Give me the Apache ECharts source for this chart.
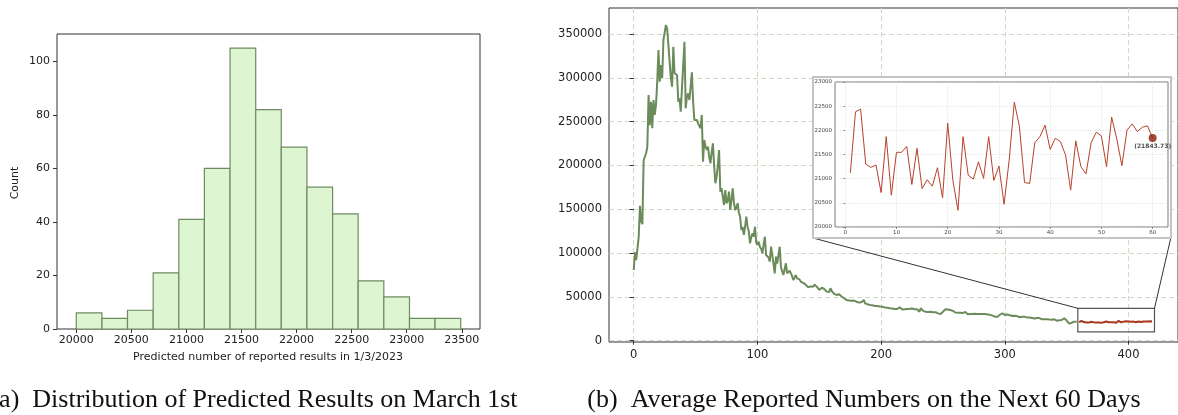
<!DOCTYPE html>
<html>
<head>
<meta charset="utf-8">
<script src="https://cdn.jsdelivr.net/npm/echarts@6.0.0/dist/echarts.min.js"></script>
<style>
html, body { margin: 0; padding: 0; background: #fff; }
#chart { width: 1178px; height: 415px; }
</style>
</head>
<body>
<div id="chart"></div>
<script>
// (a) histogram of predicted counts for 1 March
const binEdges = [20000, 20233, 20465, 20698, 20931, 21163, 21396, 21629, 21861, 22094, 22327, 22559, 22792, 23025, 23257, 23490];
const binCounts = [6, 4, 7, 21, 41, 60, 105, 82, 68, 53, 43, 18, 12, 4, 4];
const histXTicks = [20000, 20500, 21000, 21500, 22000, 22500, 23000, 23500];
const histYTicks = [0, 20, 40, 60, 80, 100];

// (b) daily reported numbers, day 0 .. 358
const reported = [
  80700, 101000, 92000, 105500, 118000, 154000, 136000, 133000, 206000, 210000,
  214000, 221500, 280500, 246000, 272800, 242500, 274800, 257700, 269100, 295700,
  331900, 295700, 314700, 299600, 343300, 352000, 360400, 356600, 358500, 318500,
  300000, 290000, 335600, 305300, 306000, 303300, 272800, 276700, 261400, 288100,
  290000, 341300, 265300, 278000, 282400, 274800, 290000, 306400, 272800, 252000,
  250000, 252000, 248000, 250000, 242500, 257700, 204400, 229100, 222000, 217700,
  221500, 210000, 202500, 215000, 225300, 200000, 179700, 187200, 200000, 217700,
  170100, 174000, 175800, 154900, 172000, 156900, 160000, 170100, 149200, 160000,
  174000, 158000, 149200, 152000, 156900, 146000, 141600, 126400, 130000, 120700,
  130000, 141600, 130100, 125000, 111200, 118000, 122600, 118700, 130100, 112000,
  109300, 113000, 107300, 105000, 99800, 110000, 118700, 97800, 99800, 95000,
  90200, 107300, 98000, 95900, 76900, 95900, 88000, 86400, 107300, 84500,
  79000, 75000, 76900, 88400, 76900, 78000, 80000, 78800, 74000, 69300,
  72000, 75000, 71200, 73100, 70000, 67400, 69000, 66000, 65500, 64000,
  63600, 61000, 59800, 62000, 63000, 61500, 64000, 65500, 61600, 60000,
  57900, 59000, 60500, 61600, 59000, 58000, 56000, 54100, 55500, 59800,
  57000, 55000, 53500, 54100, 52200, 51000, 53000, 52200, 50500, 49000,
  48400, 49500, 46500, 47500, 46000, 44500, 45500, 44500, 45800, 46500,
  44500, 46500, 43500, 42700, 44000, 45500, 46500, 42700, 43500, 41500,
  42000, 40800, 42000, 40500, 41000, 39600, 40800, 39600, 40200, 39000,
  39800, 38800, 39500, 38000, 38800, 37500, 38000, 37000, 37800, 36800,
  37500, 36200, 36800, 36200, 37000, 38100, 36500, 35600, 35000, 36000,
  35400, 36200, 37000, 36400, 35500, 36800, 35000, 35800, 35000, 36000,
  35500, 33100, 37000, 35600, 34000, 34500, 33100, 34000, 32800, 31300,
  33000, 33100, 32500, 31500, 32600, 30800, 31200, 29300, 30500, 31500,
  33000, 34800, 36000, 37000, 35500, 34000, 35000, 33100, 34000, 33100,
  32200, 33100, 32000, 33100, 32000, 33300, 31500, 32000, 32800, 31000,
  30200, 29300, 30400, 29300, 30600, 31500, 30800, 31800, 30500, 31300,
  30600, 31300, 30500, 29800, 30400, 29300, 30000, 28800, 29500, 28200,
  28600, 27800, 27400, 28300, 27400, 28200, 29600, 30300, 31300, 30200,
  29400, 31300, 29800, 28500, 29000, 27400, 28200, 27400, 28500, 27200,
  28000, 27600, 26800, 27800, 27400, 26500, 27200, 26000, 26600, 25600,
  26400, 27200, 26000, 26700, 25400, 26700, 25800, 25000, 25800, 24800,
  24400, 25200, 24500, 23800, 24600, 23600, 24200, 23200, 24000, 23400,
  24400, 23600, 22800, 23800, 23200, 24000, 23600, 24600, 25600, 24000,
  23000, 21500, 19500, 17900, 20500, 18500, 21700, 20800, 21500
];

// average of the next 60 days (day 1 .. 60)
const forecast = [
  21122, 22383, 22440, 21300, 21233, 21282, 20713, 21870, 20658, 21545,
  21545, 21670, 20880, 21628, 20797, 20977, 20845, 21226, 20603, 22148,
  20970, 20346, 21870, 21074, 20990, 21350, 21005, 21870, 20963, 21261,
  20471, 21386, 22584, 22078, 20921, 20900, 21746, 21870, 22106, 21607,
  21836, 21767, 21490, 20762, 21781, 21247, 21101, 21746, 21961, 21885,
  21247, 22272, 21822, 21268, 22002, 22134, 21975, 22065, 22092, 21843.73
];
const forecastStartDay = 360;

const mainXTicks = [0, 100, 200, 300, 400];
const mainYTicks = [0, 50000, 100000, 150000, 200000, 250000, 300000, 350000];
const insetXTicks = [0, 10, 20, 30, 40, 50, 60];

// region of the main plot that the inset magnifies (data units)
const zoomRegion = [359, 37000, 421, 10000];

const captionA = '(a)  Distribution of Predicted Results on March 1st';
const captionB = '(b)  Average Reported Numbers on the Next 60 Days';

// ---- layout ----
const insetFrame = { x: 813, y: 77, w: 358, h: 161 };
const sans = 'DejaVu Sans';
const gridDash = { color: '#cfd8c6', type: [5, 3], width: 1 };
const plain = (v) => String(v);

const chart = echarts.init(document.getElementById('chart'), null, { renderer: 'canvas' });

const valueAxisBase = (extra) => Object.assign({
  type: 'value',
  axisLine: { show: false },
  axisTick: { show: true, length: 4, lineStyle: { color: '#333' } },
  axisLabel: { color: '#222', fontFamily: sans, fontSize: 11.5, formatter: plain },
  splitLine: { show: false }
}, extra);

chart.setOption({
  animation: false,
  backgroundColor: '#fff',
  grid: [
    { left: 57, top: 34, width: 423, height: 295, show: true, borderColor: '#333', borderWidth: 1, backgroundColor: 'transparent' },
    { left: 609, top: 8, width: 576, height: 334, show: true, borderColor: '#333', borderWidth: 1, backgroundColor: 'transparent' },
    { left: 835, top: 82, width: 333, height: 145, show: true, borderColor: '#555', borderWidth: 0.8, backgroundColor: 'transparent', z: 12 }
  ],
  xAxis: [
    valueAxisBase({
      gridIndex: 0, min: 19825, max: 23665,
      axisTick: { show: true, length: 4, customValues: histXTicks, lineStyle: { color: '#333' } },
      axisLabel: { color: '#222', fontFamily: sans, fontSize: 11, margin: 6, customValues: histXTicks, formatter: plain }
    }),
    valueAxisBase({
      gridIndex: 1, min: -20, max: 440,
      axisTick: { show: true, length: 4, customValues: mainXTicks, lineStyle: { color: '#333' } },
      axisLabel: { color: '#222', fontFamily: sans, fontSize: 11.5, margin: 7, customValues: mainXTicks, formatter: plain },
      splitLine: { show: true, lineStyle: gridDash }
    }),
    valueAxisBase({
      gridIndex: 2, min: -2, max: 63, z: 13,
      axisTick: { show: true, length: 2, customValues: insetXTicks, lineStyle: { color: '#555', width: 0.6 } },
      axisLabel: { color: '#444', fontFamily: sans, fontSize: 5.5, margin: 3, customValues: insetXTicks, formatter: plain },
      splitLine: { show: true, lineStyle: { color: '#dcdccf', type: [1, 1.5], width: 0.8 } }
    })
  ],
  yAxis: [
    valueAxisBase({
      gridIndex: 0, min: 0, max: 110.25,
      axisTick: { show: true, length: 4, customValues: histYTicks, lineStyle: { color: '#333' } },
      axisLabel: { color: '#222', fontFamily: sans, fontSize: 11, margin: 7, customValues: histYTicks, formatter: plain }
    }),
    valueAxisBase({
      gridIndex: 1, min: -1500, max: 379800,
      axisTick: { show: true, length: 4, customValues: mainYTicks, lineStyle: { color: '#333' } },
      axisLabel: { color: '#222', fontFamily: sans, fontSize: 11.5, margin: 7, customValues: mainYTicks, formatter: plain },
      splitLine: { show: true, lineStyle: gridDash }
    }),
    valueAxisBase({
      gridIndex: 2, min: 20000, max: 23000, interval: 500, z: 13,
      axisTick: { show: true, length: 2, lineStyle: { color: '#555', width: 0.6 } },
      axisLabel: { color: '#444', fontFamily: sans, fontSize: 5.5, margin: 3, formatter: plain },
      splitLine: { show: true, lineStyle: { color: '#dcdccf', type: [1, 1.5], width: 0.8 } }
    })
  ],
  graphic: {
    elements: [
      { type: 'rect', z: 10, shape: { x: insetFrame.x, y: insetFrame.y, width: insetFrame.w, height: insetFrame.h },
        style: { fill: '#fff', stroke: '#c4c4c4', lineWidth: 2 } },
      { type: 'text', x: 268, y: 357, style: { text: 'Predicted number of reported results in 1/3/2023', font: '11px "DejaVu Sans"', fill: '#222', textAlign: 'center', textVerticalAlign: 'middle' } },
      { type: 'text', x: 15, y: 183, rotation: Math.PI / 2, style: { text: 'Count', font: '11px "DejaVu Sans"', fill: '#222', textAlign: 'center', textVerticalAlign: 'middle' } },
      { type: 'text', x: 254, y: 400, style: { text: captionA, font: '26px "Liberation Serif"', fill: '#111', textAlign: 'center', textVerticalAlign: 'middle' } },
      { type: 'text', x: 864, y: 400, style: { text: captionB, font: '26px "Liberation Serif"', fill: '#111', textAlign: 'center', textVerticalAlign: 'middle' } }
    ]
  },
  series: [
    {
      type: 'custom', name: 'histogram', xAxisIndex: 0, yAxisIndex: 0,
      encode: { x: [0, 1], y: 2 },
      data: binCounts.map((c, i) => [binEdges[i], binEdges[i + 1], c]),
      renderItem: (params, api) => {
        const p0 = api.coord([api.value(0), api.value(2)]);
        const p1 = api.coord([api.value(1), 0]);
        return {
          type: 'rect',
          shape: { x: p0[0], y: p0[1], width: p1[0] - p0[0], height: p1[1] - p0[1] },
          style: { fill: '#ddf5d0', stroke: '#6e8c5f', lineWidth: 1.2 }
        };
      }
    },
    {
      type: 'line', name: 'reported', xAxisIndex: 1, yAxisIndex: 1,
      data: reported.map((v, i) => [i, v]),
      showSymbol: false, z: 2,
      lineStyle: { color: '#6b8b5b', width: 2 }
    },
    {
      type: 'line', name: 'forecast', xAxisIndex: 1, yAxisIndex: 1,
      data: forecast.map((v, i) => [forecastStartDay + i, v]),
      showSymbol: false, z: 3,
      lineStyle: { color: '#a8381e', width: 2 }
    },
    {
      type: 'custom', name: 'zoom', xAxisIndex: 1, yAxisIndex: 1, z: 4,
      encode: { x: [0, 2], y: [1, 3] },
      data: [zoomRegion],
      renderItem: (params, api) => {
        const tl = api.coord([api.value(0), api.value(1)]);
        const br = api.coord([api.value(2), api.value(3)]);
        const fb = insetFrame.y + insetFrame.h;
        return {
          type: 'group',
          children: [
            { type: 'rect', shape: { x: tl[0], y: tl[1], width: br[0] - tl[0], height: br[1] - tl[1] },
              style: { fill: 'none', stroke: '#555', lineWidth: 1.2 } },
            { type: 'line', shape: { x1: insetFrame.x, y1: fb, x2: tl[0], y2: tl[1] },
              style: { stroke: '#333', lineWidth: 1 } },
            { type: 'line', shape: { x1: insetFrame.x + insetFrame.w, y1: fb - 1, x2: br[0], y2: tl[1] },
              style: { stroke: '#333', lineWidth: 1 } }
          ]
        };
      }
    },
    {
      type: 'line', name: 'forecast-inset', xAxisIndex: 2, yAxisIndex: 2, z: 14,
      data: forecast.map((v, i) => [i + 1, v]),
      showSymbol: false,
      lineStyle: { color: '#b8412a', width: 1 }
    },
    {
      type: 'scatter', name: 'last', xAxisIndex: 2, yAxisIndex: 2, z: 15,
      data: [[forecast.length, forecast[forecast.length - 1]]],
      symbolSize: 8,
      itemStyle: { color: '#8b1e05' },
      label: {
        show: true, position: 'bottom', distance: 2,
        formatter: (p) => '(' + p.value[1].toFixed(2) + ')',
        fontFamily: sans, fontSize: 6, fontWeight: 'bold', color: '#222'
      }
    }
  ]
});
</script>
</body>
</html>
